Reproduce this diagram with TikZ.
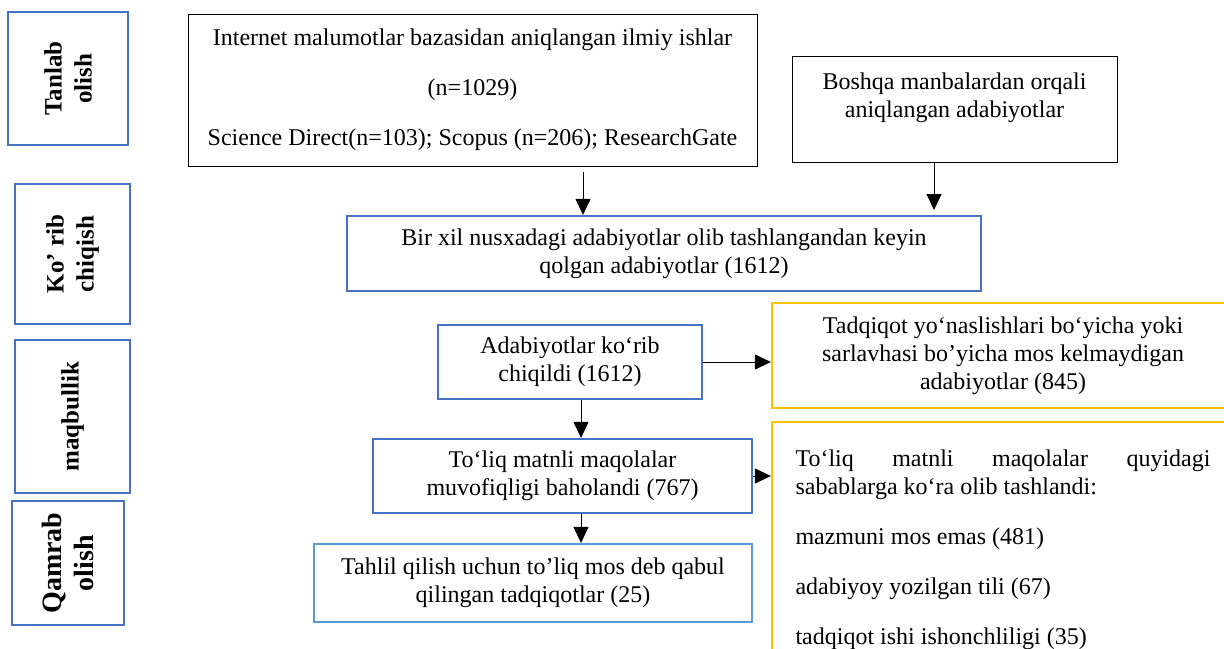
\documentclass[tikz,border=0pt]{standalone}
\usepackage{fontspec}
\setmainfont{Liberation Serif}
\usetikzlibrary{arrows.meta,calc}
\definecolor{boxblue}{HTML}{4472C4}
\definecolor{boxlight}{HTML}{5B9BD5}
\definecolor{boxyellow}{HTML}{FFC000}

\begin{document}
\begin{tikzpicture}[x=0.5pt,y=-0.5pt,font=\fontsize{12}{14}\selectfont]
	\useasboundingbox (0,0) rectangle (1224,648);
	\clip (0,0) rectangle (1224,648);
	% stage labels on the left
	\begin{scope}[every node/.style={draw=boxblue,line width=1.1pt,rotate=90,align=center,
			font=\fontsize{12.5}{15}\selectfont\bfseries}]
		\node[minimum width=66.5pt,minimum height=60pt] (tanlab) at (68,78.5) {Tanlab\\olish};
		\node[minimum width=70pt,minimum height=57.5pt] (korib) at (72.5,254) {Ko’ rib\\chiqish};
		\node[minimum width=76.5pt,minimum height=57.5pt] (maqbul) at (72.5,416.5) {maqbullik};
		\node[minimum width=62pt,minimum height=56pt,font=\fontsize{14}{16}\selectfont\bfseries] (qamrab) at (68,563) {Qamrab\\olish};
	\end{scope}
	% sources
	\begin{scope}[every node/.style={draw,line width=0.5pt,align=center,inner sep=0pt}]
		\node[minimum width=284.5pt,minimum height=76pt] (internet) at (472.5,90) {Internet malumotlar bazasidan aniqlangan ilmiy ishlar\\[11pt](n=1029)\\[11pt]Science Direct(n=103); Scopus (n=206); ResearchGate};
		\node[minimum width=162.5pt,minimum height=53pt] (boshqa) at (954.5,109) {Boshqa manbalardan orqali\\aniqlangan adabiyotlar\\~};
	\end{scope}
	% main flow
	\begin{scope}[every node/.style={draw=boxblue,line width=1.1pt,align=center,inner sep=0pt}]
		\node[minimum width=317pt,minimum height=37.5pt] (birxil) at (664,253.5) {Bir xil nusxadagi adabiyotlar olib tashlangandan keyin\\qolgan adabiyotlar (1612)};
		\node[minimum width=132pt,minimum height=37pt] (adab) at (570,362) {Adabiyotlar ko‘rib\\chiqildi (1612)};
		\node[minimum width=189.5pt,minimum height=37pt] (toliq) at (562.5,476) {To‘liq matnli maqolalar\\muvofiqligi baholandi (767)};
		\node[draw=boxlight,minimum width=219pt,minimum height=39pt] (tahlil) at (533,583) {Tahlil qilish uchun to’liq mos deb qabul\\qilingan tadqiqotlar (25)};
	\end{scope}
	% excluded
	\begin{scope}[every node/.style={draw=boxyellow,line width=1.1pt,inner sep=0pt}]
		\node[align=center,minimum width=231pt,minimum height=52.5pt] (tadqiqot) at (1003,355.5) {Tadqiqot yo‘naslishlari bo‘yicha yoki\\sarlavhasi bo’yicha mos kelmaydigan\\adabiyotlar (845)};
		\node[align=flush left,text width=207.5pt,minimum width=231pt,minimum height=128pt] (sabab) at (1003,550) {\hbox to 207.5pt{To‘liq\hfill matnli\hfill maqolalar\hfill quyidagi}\\sabablarga ko‘ra olib tashlandi:\\[11pt]mazmuni mos emas (481)\\[11pt]adabiyoy yozilgan tili (67)\\[11pt]tadqiqot ishi ishonchliligi (35)};
	\end{scope}
	% arrows
	\begin{scope}[>={Triangle[length=8pt,width=7.5pt]},line width=0.5pt]
		\coordinate (spine) at (581,0);
		\coordinate (top1) at (583,172);
		\coordinate (top2) at (934,210);
		\draw[->] (top1) -- (top1 |- birxil.north);
		\draw[->] (top2 |- boshqa.south) -- (top2);
		\draw[->] (adab.east) -- (adab.east -| tadqiqot.west);
		\draw[->] (adab.south -| spine) -- (toliq.north -| spine);
		\draw[->] (toliq.east) -- (toliq.east -| sabab.west);
		\draw[->] (toliq.south -| spine) -- (tahlil.north -| spine);
	\end{scope}
\end{tikzpicture}
\end{document}
